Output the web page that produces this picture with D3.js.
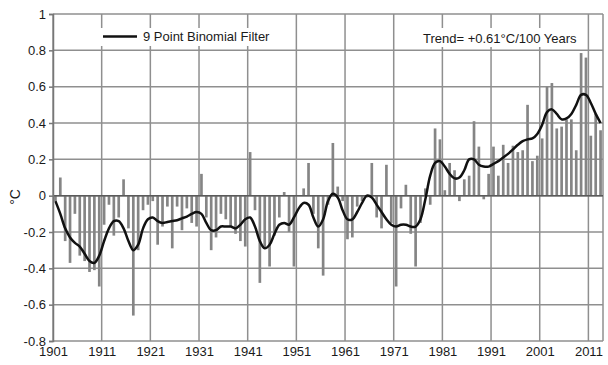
<!DOCTYPE html>
<html>
<head>
<meta charset="utf-8">
<script src="https://cdn.jsdelivr.net/npm/d3@7"></script>
<style>
  html, body { margin: 0; padding: 0; background: #fff; }
  svg { display: block; font-family: "Liberation Sans", Arial, sans-serif; }
</style>
</head>
<body>
<svg id="chart" width="608" height="365"></svg>
<script>
// Annual mean temperature anomalies (°C), 1901–2013
const firstYear = 1901;
const lastYear = 2013;
const years = d3.range(firstYear, lastYear + 1);

const anomaly = [
  -0.03, 0.10, -0.25, -0.37, -0.10, -0.33, -0.36, -0.42, -0.41, -0.50,
  -0.16, -0.05, -0.22, -0.12, 0.09, -0.18, -0.66, -0.30, -0.08, -0.05,
  -0.03, -0.27, -0.17, -0.06, -0.29, -0.06, -0.19, -0.07, -0.15, -0.17,
  0.12, -0.12, -0.30, -0.23, -0.10, -0.13, -0.17, -0.21, -0.25, -0.28,
  0.24, -0.08, -0.48, -0.29, -0.39, -0.22, -0.12, 0.02, -0.20, -0.39,
  0.00, 0.04, 0.18, -0.10, -0.29, -0.44, -0.05, 0.29, 0.05, -0.03,
  -0.24, -0.23, -0.06, -0.03, -0.01, 0.18, -0.12, -0.18, 0.17, -0.15,
  -0.50, -0.07, 0.06, -0.21, -0.39, -0.15, 0.04, -0.05, 0.37, 0.31,
  0.03, 0.18, 0.14, -0.03, 0.09, 0.11, 0.41, 0.27, -0.02, 0.12,
  0.27, 0.11, 0.28, 0.18, 0.275, 0.24, 0.25, 0.50, 0.19, 0.22,
  0.315, 0.60, 0.62, 0.37, 0.38, 0.42, 0.42, 0.25, 0.785, 0.76,
  0.33, 0.45, 0.36
];

// 9 point binomial filtered series
const filtered = [
  -0.03, -0.10, -0.18, -0.23, -0.26, -0.28, -0.32, -0.36, -0.37, -0.33,
  -0.25, -0.18, -0.14, -0.14, -0.18, -0.25, -0.30, -0.27, -0.18, -0.13,
  -0.12, -0.14, -0.15, -0.145, -0.14, -0.135, -0.125, -0.115, -0.10, -0.09,
  -0.10, -0.15, -0.19, -0.19, -0.17, -0.17, -0.17, -0.18, -0.16, -0.13,
  -0.12, -0.17, -0.25, -0.29, -0.27, -0.21, -0.16, -0.15, -0.16, -0.12,
  -0.07, -0.04, -0.05, -0.12, -0.17, -0.13, -0.03, 0.01, -0.01, -0.08,
  -0.13, -0.13, -0.09, -0.04, 0.00, -0.01, -0.05, -0.09, -0.13, -0.16,
  -0.17, -0.16, -0.16, -0.17, -0.17, -0.13, -0.02, 0.11, 0.18, 0.19,
  0.16, 0.12, 0.095, 0.10, 0.14, 0.20, 0.20, 0.17, 0.16, 0.16,
  0.175, 0.19, 0.21, 0.23, 0.255, 0.28, 0.30, 0.31, 0.315, 0.34,
  0.39, 0.46, 0.475, 0.45, 0.42, 0.425, 0.45, 0.50, 0.555, 0.555,
  0.51, 0.45, 0.40
];

const xTickYears = [1901, 1911, 1921, 1931, 1941, 1951, 1961, 1971, 1981, 1991, 2001, 2011];
const yTicks = [-0.8, -0.6, -0.4, -0.2, 0, 0.2, 0.4, 0.6, 0.8, 1];
const legendLabel = "9 Point Binomial Filter";
const trendLabel = "Trend= +0.61°C/100 Years";
const yTitle = "°C";

const svg = d3.select("#chart");
const plotLeft = 53, plotRight = 603, plotTop = 14, plotBottom = 341;

const x = d3.scaleBand().domain(years).range([plotLeft, plotRight])
  .paddingInner(0.45).paddingOuter(0.225);
const xEdge = d3.scaleLinear().domain([firstYear, lastYear + 1]).range([plotLeft, plotRight]);
const y = d3.scaleLinear().domain([-0.8, 1]).range([plotBottom, plotTop]);

const gridColor = "#8f8f8f";

// horizontal grid
svg.append("g").selectAll("line").data(yTicks).join("line")
  .attr("x1", plotLeft).attr("x2", plotRight)
  .attr("y1", d => y(d)).attr("y2", d => y(d))
  .attr("stroke", gridColor)
  .attr("stroke-width", 1.5);

// vertical grid at decade boundaries, plus right border
svg.append("g").selectAll("line").data(xTickYears.concat([lastYear + 1])).join("line")
  .attr("x1", d => xEdge(d)).attr("x2", d => xEdge(d))
  .attr("y1", plotTop).attr("y2", plotBottom)
  .attr("stroke", gridColor)
  .attr("stroke-width", 1.5);

// annual bars
svg.append("g").selectAll("rect").data(years).join("rect")
  .attr("x", d => x(d))
  .attr("width", x.bandwidth())
  .attr("y", (d, i) => y(Math.max(0, anomaly[i])))
  .attr("height", (d, i) => Math.abs(y(anomaly[i]) - y(0)))
  .attr("fill", "#858585");

// zero line drawn over the bars
svg.append("line")
  .attr("x1", plotLeft).attr("x2", plotRight)
  .attr("y1", y(0)).attr("y2", y(0))
  .attr("stroke", "#5a5a5a").attr("stroke-width", 1.5);

// filtered curve
const line = d3.line()
  .x((d, i) => x(years[i]) + x.bandwidth() / 2)
  .y(d => y(d))
  .curve(d3.curveCatmullRom.alpha(0.5));
svg.append("path").datum(filtered)
  .attr("d", line)
  .attr("fill", "none")
  .attr("stroke", "#111")
  .attr("stroke-width", 2.5)
  .attr("stroke-linejoin", "round");

// y axis
const yAxis = d3.axisLeft(y).tickValues(yTicks).tickSize(4).tickPadding(3)
  .tickFormat(d => d === 0 ? "0" : String(+d.toFixed(1)));
const gy = svg.append("g").attr("transform", `translate(${plotLeft},0)`).call(yAxis);
gy.select(".domain").attr("stroke", "#777").attr("stroke-width", 1.5);
gy.selectAll(".tick line").attr("stroke", "#777").attr("stroke-width", 1.5);
gy.selectAll(".tick text").attr("font-size", 13).attr("fill", "#1a1a1a")
  .attr("font-family", "Liberation Sans, Arial, sans-serif");

// x labels
const xAxis = d3.axisBottom(xEdge).tickValues(xTickYears).tickSize(0).tickPadding(6)
  .tickFormat(d3.format("d"));
const gx = svg.append("g").attr("transform", `translate(0,${plotBottom})`).call(xAxis);
gx.select(".domain").remove();
gx.selectAll(".tick text").attr("font-size", 13).attr("fill", "#1a1a1a")
  .attr("font-family", "Liberation Sans, Arial, sans-serif");

// y title
svg.append("text")
  .attr("transform", "translate(20,197) rotate(-90)")
  .attr("text-anchor", "middle")
  .attr("font-size", 14).attr("fill", "#1a1a1a")
  .text(yTitle);

// legend
const legend = svg.append("g");
legend.append("rect").attr("x", 99).attr("y", 28).attr("width", 174).attr("height", 18).attr("fill", "#fff");
legend.append("line").attr("x1", 103).attr("x2", 137).attr("y1", 36.5).attr("y2", 36.5)
  .attr("stroke", "#111").attr("stroke-width", 2.5);
legend.append("text").attr("x", 143).attr("y", 41).attr("font-size", 13).attr("fill", "#1a1a1a")
  .text(legendLabel);

// trend annotation
const trend = svg.append("g");
trend.append("rect").attr("x", 419).attr("y", 28).attr("width", 161).attr("height", 19).attr("fill", "#fff");
trend.append("text").attr("x", 423).attr("y", 42.5).attr("font-size", 13).attr("fill", "#1a1a1a")
  .text(trendLabel);
</script>
</body>
</html>
